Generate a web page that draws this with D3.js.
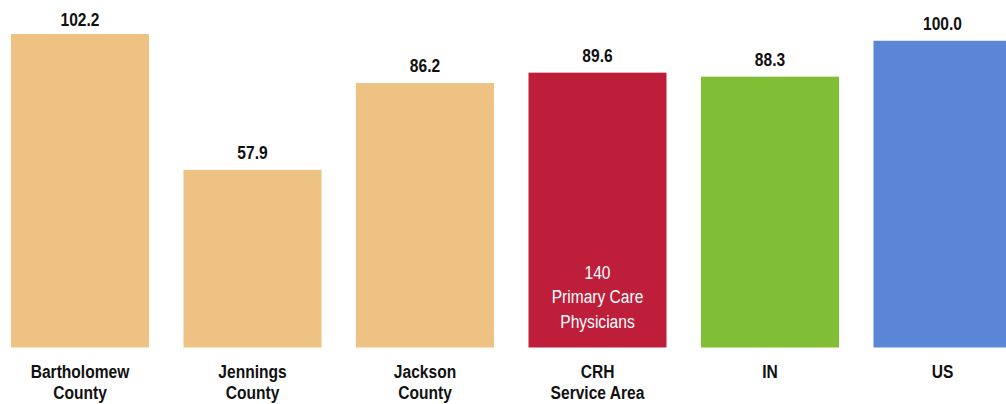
<!DOCTYPE html>
<html><head><meta charset="utf-8">
<script src="https://cdn.jsdelivr.net/npm/d3@7"></script>
<style>
body{margin:0;background:#fff;}
svg{display:block;}
text{font-family:"Liberation Sans",Arial,sans-serif;}
</style></head>
<body>
<script>
const categories = ["Bartholomew\nCounty","Jennings\nCounty","Jackson\nCounty","CRH\nService Area","IN","US"];
const values = [102.2, 57.9, 86.2, 89.6, 88.3, 100.0];
const colors = ["#EDC283","#EDC283","#EDC283","#BE1E3A","#80BE35","#5B86D6"];
const insideNote = {index:3, lines:["140","Primary Care","Physicians"]};

const W=1006,H=404, SX=0.82;
const svg=d3.select("body").append("svg").attr("width",W).attr("height",H);
const x=d3.scaleBand().domain(categories).range([11,1011.5]).paddingInner(0.2).paddingOuter(0);
const y=d3.scaleLinear().domain([0,102.2]).range([347.5,34]);
const cx=c=>x(c)+x.bandwidth()/2;

svg.selectAll("rect.bar").data(values).join("rect")
 .attr("x",(d,i)=>x(categories[i])).attr("width",x.bandwidth())
 .attr("y",d=>y(d)).attr("height",d=>y(0)-y(d))
 .attr("fill",(d,i)=>colors[i]);

svg.selectAll("text.val").data(values).join("text")
 .attr("transform",(d,i)=>`translate(${cx(categories[i])},${Math.max(y(d)-11,26)}) scale(${SX},1)`)
 .attr("text-anchor","middle").attr("font-weight","bold").attr("font-size",19).attr("fill","#111")
 .text(d=>d.toFixed(1));

svg.selectAll("text.cat").data(categories).join("text")
 .attr("text-anchor","middle").attr("font-weight","bold").attr("font-size",19).attr("fill","#111")
 .each(function(c){
  const lines=c.split("\n");
  const t=d3.select(this).attr("transform",`translate(${cx(c)},0) scale(${SX},1)`);
  const base = lines.length>1 ? 378 : 378;
  lines.forEach((ln,j)=>{
    t.append("tspan").attr("x",0).attr("y",base+j*21).text(ln);
  });
});

const nc=categories[insideNote.index];
svg.append("text").attr("text-anchor","middle").attr("font-size",19).attr("fill","#fff")
 .attr("transform",`translate(${cx(nc)},0) scale(${SX},1)`)
 .selectAll("tspan").data(insideNote.lines).join("tspan")
 .attr("x",0).attr("y",(d,j)=>279+j*24.5).text(d=>d);
</script>
</body></html>
